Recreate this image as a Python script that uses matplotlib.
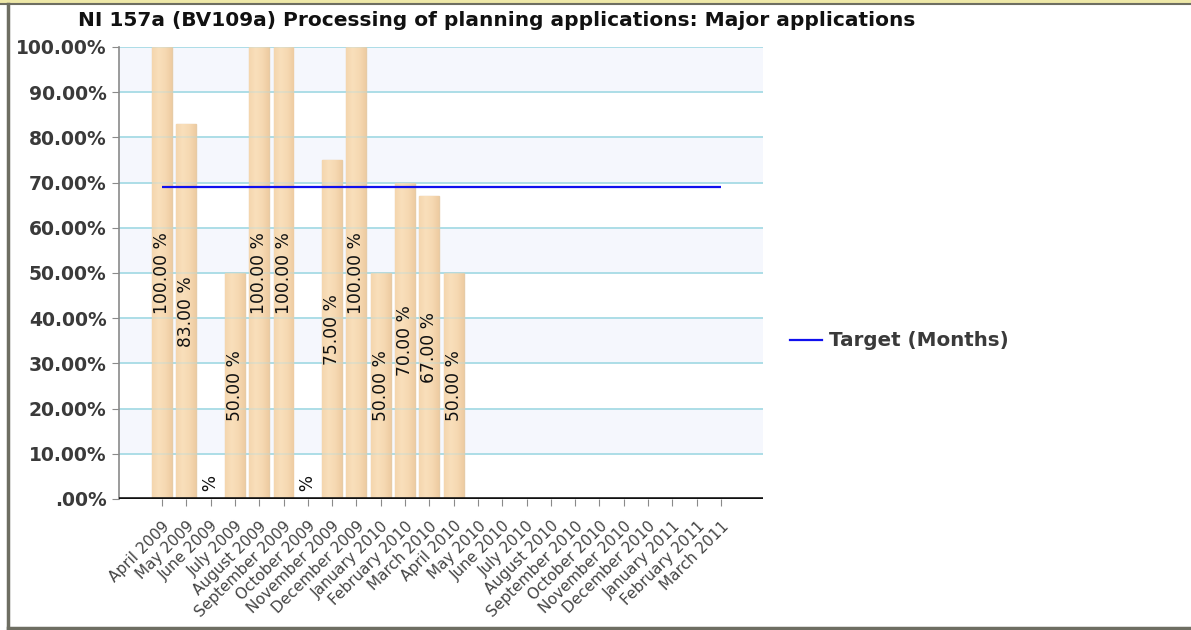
#!/usr/bin/env python3
"""NI 157a major applications chart, monthly % with target line."""

import numpy as np
import matplotlib
matplotlib.use("Agg")
import matplotlib.pyplot as plt
from matplotlib.colors import LinearSegmentedColormap
from matplotlib.lines import Line2D
from matplotlib.patches import Rectangle

months = [
    "April 2009", "May 2009", "June 2009", "July 2009", "August 2009",
    "September 2009", "October 2009", "November 2009", "December 2009",
    "January 2010", "February 2010", "March 2010", "April 2010", "May 2010",
    "June 2010", "July 2010", "August 2010", "September 2010", "October 2010",
    "November 2010", "December 2010", "January 2011", "February 2011", "March 2011",
]
# None = no data for that month
actual = [100, 83, 0, 50, 100, 100, 0, 75, 100, 50, 70, 67, 50,
          None, None, None, None, None, None, None, None, None, None, None]
target = 69
y_ticks = [0, 10, 20, 30, 40, 50, 60, 70, 80, 90, 100]

plt.rcParams["font.family"] = ["DejaVu Sans"]

W, H = 1191, 630
fig = plt.figure(figsize=(W / 100, H / 100), dpi=100)
ax = fig.add_axes([119 / W, 1 - 499 / H, (763 - 119) / W, (499 - 47) / H])

x = np.arange(len(months))

# alternating bands + grid (faint copy above bars, they show through in the original)
for lo in y_ticks[1:-1:2]:
    ax.axhspan(lo, lo + 10, color="#f5f7fd", zorder=0, lw=0)
for t in y_ticks[1:]:
    ax.axhline(t, color="#a9dce6", lw=1.3, zorder=1)
    ax.axhline(t, color="#a9dce6", lw=1.3, alpha=0.3, zorder=2.5)


def fmt(v):
    s = f"{v:.2f}"
    return s[1:] if s.startswith("0") else s


bar_cmap = LinearSegmentedColormap.from_list(
    "peach", ["#f4d6ae", "#f9dfbb", "#f6d9b2", "#eecca2"])
grad = np.linspace(0, 1, 64).reshape(1, -1)
bw = 0.82

for i, v in enumerate(actual):
    if v is None:
        continue
    bars = ax.bar(x[i], v, width=bw, color="#f4d8b2", edgecolor="#e6cba6",
                  linewidth=1, zorder=2)
    if v > 0:
        im = ax.imshow(grad, cmap=bar_cmap, aspect="auto", zorder=2.1,
                       extent=(x[i] - bw / 2, x[i] + bw / 2, 0, v))
        im.set_clip_path(bars[0])
    ax.text(x[i], v / 2, fmt(v) + " %", rotation=90, ha="center", va="center",
            fontsize=12.3, color="#111111", zorder=4, clip_on=True)

ax.set_xlim(-1.77, 24.73)
ax.set_ylim(0, 100)

ax.hlines(target, 0, len(months) - 1, color="#1010ee", lw=1.6, zorder=3)
ax.axhline(0, color="#111111", lw=2.6, zorder=5)

for side in ("top", "right", "bottom"):
    ax.spines[side].set_visible(False)
ax.spines["left"].set_color("#8a8a8a")
ax.spines["left"].set_linewidth(1.2)

ax.set_yticks(y_ticks)
ax.set_yticklabels([fmt(t) + "%" for t in y_ticks], fontsize=13.5,
                   fontweight="bold", color="#3a3a3a")
ax.tick_params(axis="y", length=5, color="#8a8a8a", pad=4)
ax.set_xticks(x)
ax.set_xticklabels(months, rotation=45, ha="right", rotation_mode="anchor",
                   fontsize=11, color="#444444")
ax.tick_params(axis="x", length=5, color="#8a8a8a", pad=9)

fig.text(497 / W, 1 - 20 / H,
         "NI 157a (BV109a) Processing of planning applications: Major applications",
         ha="center", va="center", fontsize=14.5, fontweight="bold", color="#111111")

# legend
fig.add_artist(Line2D([790 / W, 822 / W], [1 - 340 / H, 1 - 340 / H],
                      color="#1010ee", lw=1.6))
fig.text(829 / W, 1 - 340 / H, "Target (Months)", ha="left", va="center",
         fontsize=14.3, fontweight="bold", color="#3a3a3a")

# outer frame
fig.add_artist(Rectangle((0, 1 - 3 / H), 1, 3 / H, transform=fig.transFigure,
                         color="#eee8a8", lw=0))
border = "#6e6e62"
fig.add_artist(Line2D([0, 1], [1 - 3.5 / H, 1 - 3.5 / H], color=border, lw=1.5))
fig.add_artist(Line2D([8 / W, 8 / W], [1 - 3.5 / H, 2 / H], color=border, lw=2.5))
fig.add_artist(Line2D([8 / W, 1], [2 / H, 2 / H], color=border, lw=2.5))

fig.savefig("out.png", dpi=100)
